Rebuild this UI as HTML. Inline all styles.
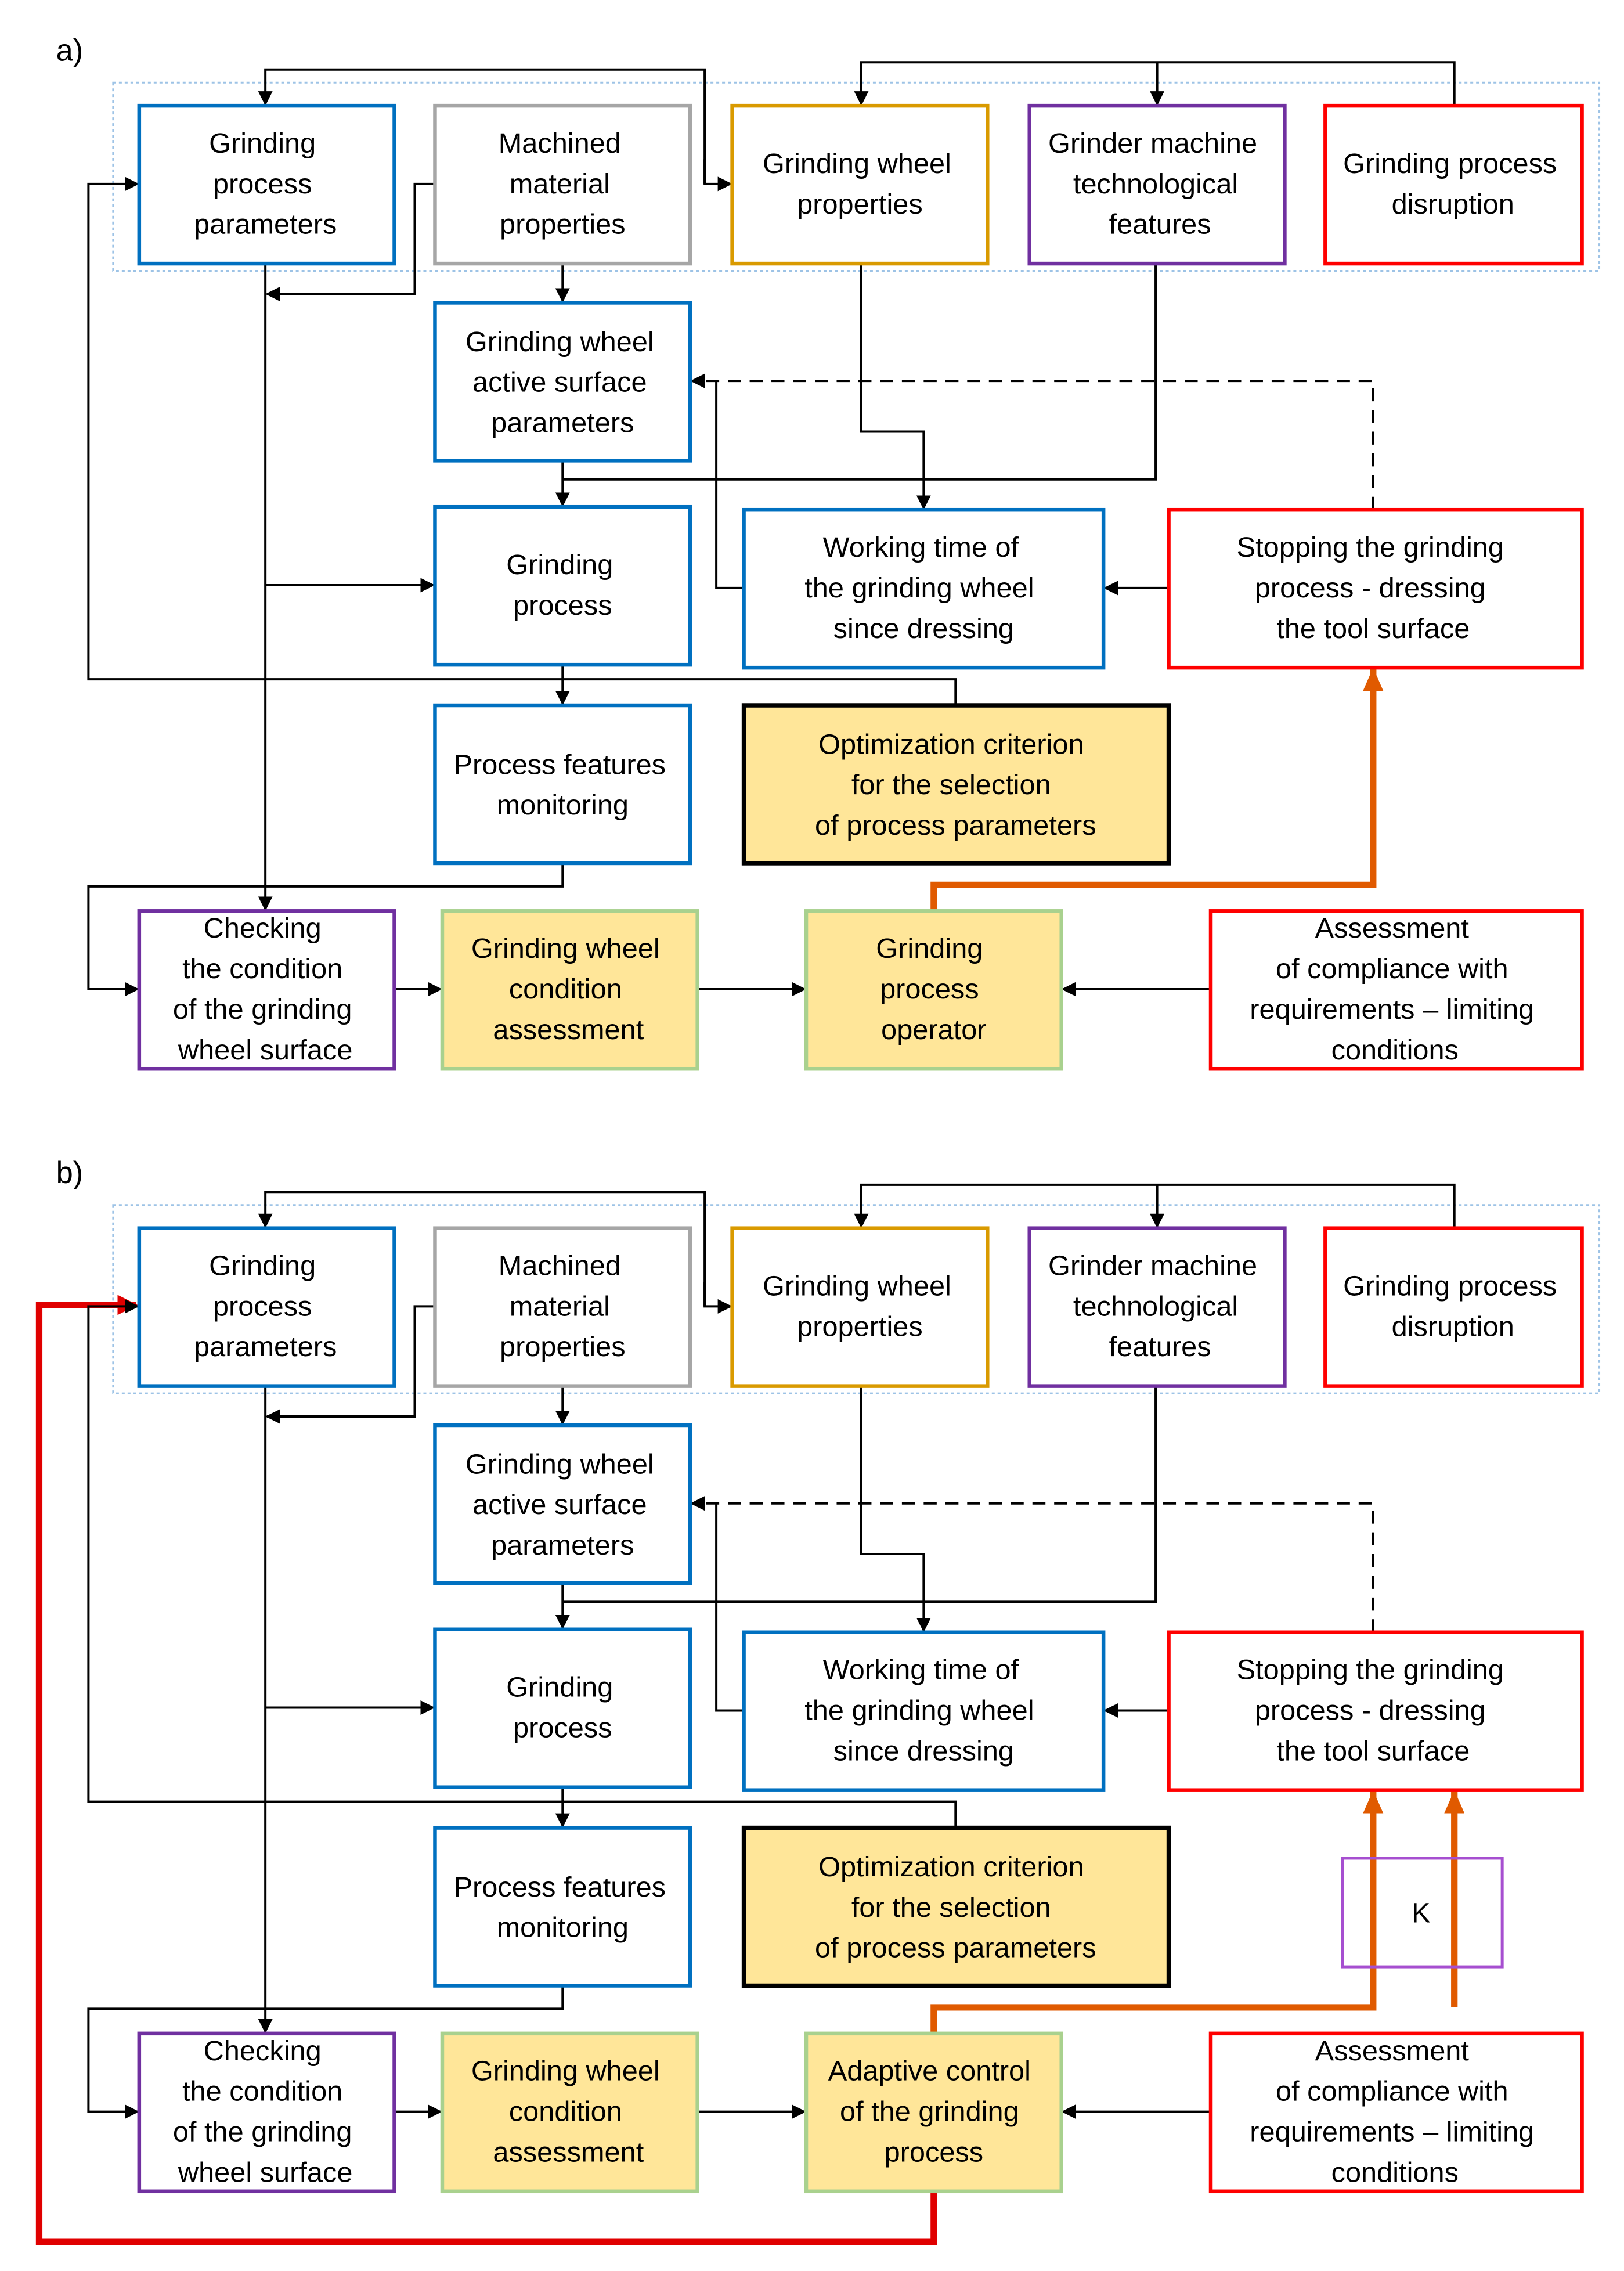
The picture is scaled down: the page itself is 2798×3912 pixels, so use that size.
<!DOCTYPE html>
<html><head><meta charset="utf-8">
<style>
html,body{margin:0;padding:0;background:#fff;}
svg{display:block;}
text{font-family:"Liberation Sans",sans-serif;font-size:19.5px;fill:#000;text-anchor:middle;dominant-baseline:central;}
.b{fill:#fff;stroke-width:2.6;}
.y{fill:#FFE699;stroke-width:2.6;}
.l{fill:none;stroke:#000;stroke-width:1.6;}
.d{fill:none;stroke:#000;stroke-width:1.6;stroke-dasharray:9 6;}
.o{fill:none;stroke:#E05A00;stroke-width:4.5;}
.r{fill:none;stroke:#E00000;stroke-width:4.5;}
</style></head>
<body>
<svg width="2798" height="3912" viewBox="0 0 1120 1568" preserveAspectRatio="none" xmlns="http://www.w3.org/2000/svg">
<defs>
<marker id="a" markerWidth="10" markerHeight="10" refX="9" refY="5" orient="auto" markerUnits="userSpaceOnUse"><path d="M0,0 L10,5 L0,10 z" fill="#000"/></marker>
<marker id="ao" markerWidth="16" markerHeight="14" refX="15" refY="7" orient="auto" markerUnits="userSpaceOnUse"><path d="M0,0 L16,7 L0,14 z" fill="#E05A00"/></marker>
<marker id="ar" markerWidth="14" markerHeight="14" refX="13" refY="7" orient="auto" markerUnits="userSpaceOnUse"><path d="M0,0 L14,7 L0,14 z" fill="#E00000"/></marker>
</defs>

<!-- PANEL A -->
<text x="48" y="35" style="font-size:21px">a)</text>
<rect x="78" y="57" width="1025" height="130" fill="none" stroke="#9DC3E6" stroke-width="1.2" stroke-dasharray="2 2"/>

<path class="l" d="M486,127 L486,48 L183,48 L183,72" marker-end="url(#a)"/>
<path class="l" d="M486,110 L486,127 L504,127" marker-end="url(#a)"/>
<path class="l" d="M1003,73 L1003,43 L594,43 L594,72" marker-end="url(#a)"/>
<path class="l" d="M798,43 L798,72" marker-end="url(#a)"/>
<path class="l" d="M300,127 L286,127 L286,203 L184,203" marker-end="url(#a)"/>
<path class="l" d="M183,182 L183,628" marker-end="url(#a)"/>
<path class="l" d="M183,404 L299,404" marker-end="url(#a)"/>
<path class="l" d="M388,182 L388,208" marker-end="url(#a)"/>
<path class="l" d="M594,182 L594,298 L637,298 L637,351" marker-end="url(#a)"/>
<path class="l" d="M797,182 L797,331 L388,331"/>
<path class="l" d="M388,318 L388,349" marker-end="url(#a)"/>
<path class="d" d="M947,352 L947,263 L477,263" marker-end="url(#a)"/>
<path class="l" d="M513,406 L494,406 L494,263"/>
<path class="l" d="M806,406 L762,406" marker-end="url(#a)"/>
<path class="l" d="M388,459 L388,486" marker-end="url(#a)"/>
<path class="l" d="M659,487 L659,469 L61,469 L61,127 L95,127" marker-end="url(#a)"/>
<path class="l" d="M388,596 L388,612 L61,612 L61,683 L95,683" marker-end="url(#a)"/>
<path class="l" d="M272,683 L304,683" marker-end="url(#a)"/>
<path class="l" d="M481,683 L555,683" marker-end="url(#a)"/>
<path class="l" d="M835,683 L733,683" marker-end="url(#a)"/>
<path class="o" d="M644,629 L644,611 L947,611 L947,462" marker-end="url(#ao)"/>

<rect class="b" x="96" y="73" width="176" height="109" stroke="#0070C0"/>
<text x="181" y="99">Grinding</text><text x="181" y="127">process</text><text x="183" y="155">parameters</text>
<rect class="b" x="300" y="73" width="176" height="109" stroke="#A6A6A6"/>
<text x="386" y="99">Machined</text><text x="386" y="127">material</text><text x="388" y="155">properties</text>
<rect class="b" x="505" y="73" width="176" height="109" stroke="#D99A00"/>
<text x="591" y="113">Grinding wheel</text><text x="593" y="141">properties</text>
<rect class="b" x="710" y="73" width="176" height="109" stroke="#7030A0"/>
<text x="795" y="99">Grinder machine</text><text x="797" y="127">technological</text><text x="800" y="155">features</text>
<rect class="b" x="914" y="73" width="177" height="109" stroke="#FF0000"/>
<text x="1000" y="113">Grinding process</text><text x="1002" y="141">disruption</text>

<rect class="b" x="300" y="209" width="176" height="109" stroke="#0070C0"/>
<text x="386" y="236">Grinding wheel</text><text x="386" y="264">active surface</text><text x="388" y="292">parameters</text>
<rect class="b" x="300" y="350" width="176" height="109" stroke="#0070C0"/>
<text x="386" y="390">Grinding</text><text x="388" y="418">process</text>
<rect class="b" x="513" y="352" width="248" height="109" stroke="#0070C0"/>
<text x="635" y="378">Working time of</text><text x="634" y="406">the grinding wheel</text><text x="637" y="434">since dressing</text>
<rect class="b" x="806" y="352" width="285" height="109" stroke="#FF0000"/>
<text x="945" y="378">Stopping the grinding</text><text x="945" y="406">process - dressing</text><text x="947" y="434">the tool surface</text>
<rect class="b" x="300" y="487" width="176" height="109" stroke="#0070C0"/>
<text x="386" y="528">Process features</text><text x="388" y="556">monitoring</text>
<rect class="y" x="513" y="487" width="293" height="109" stroke="#000" style="stroke-width:3"/>
<text x="656" y="514">Optimization criterion</text><text x="656" y="542">for the selection</text><text x="659" y="570">of process parameters</text>
<rect class="b" x="96" y="629" width="176" height="109" stroke="#7030A0"/>
<text x="181" y="641">Checking</text><text x="181" y="669">the condition</text><text x="181" y="697">of the grinding</text><text x="183" y="725">wheel surface</text>
<rect class="y" x="305" y="629" width="176" height="109" stroke="#A9D18E"/>
<text x="390" y="655">Grinding wheel</text><text x="390" y="683">condition</text><text x="392" y="711">assessment</text>
<rect class="y" x="556" y="629" width="176" height="109" stroke="#A9D18E"/>
<text x="641" y="655">Grinding</text><text x="641" y="683">process</text><text x="644" y="711">operator</text>
<rect class="b" x="835" y="629" width="256" height="109" stroke="#FF0000"/>
<text x="960" y="641">Assessment</text><text x="960" y="669">of compliance with</text><text x="960" y="697">requirements – limiting</text><text x="962" y="725">conditions</text>

<!-- PANEL B -->
<g transform="translate(0,775)">
<text x="48" y="35" style="font-size:21px">b)</text>
<rect x="78" y="57" width="1025" height="130" fill="none" stroke="#9DC3E6" stroke-width="1.2" stroke-dasharray="2 2"/>

<path class="r" d="M644,739 L644,773 L27,773 L27,126 L94,126" marker-end="url(#ar)"/>

<path class="l" d="M486,127 L486,48 L183,48 L183,72" marker-end="url(#a)"/>
<path class="l" d="M486,110 L486,127 L504,127" marker-end="url(#a)"/>
<path class="l" d="M1003,73 L1003,43 L594,43 L594,72" marker-end="url(#a)"/>
<path class="l" d="M798,43 L798,72" marker-end="url(#a)"/>
<path class="l" d="M300,127 L286,127 L286,203 L184,203" marker-end="url(#a)"/>
<path class="l" d="M183,182 L183,628" marker-end="url(#a)"/>
<path class="l" d="M183,404 L299,404" marker-end="url(#a)"/>
<path class="l" d="M388,182 L388,208" marker-end="url(#a)"/>
<path class="l" d="M594,182 L594,298 L637,298 L637,351" marker-end="url(#a)"/>
<path class="l" d="M797,182 L797,331 L388,331"/>
<path class="l" d="M388,318 L388,349" marker-end="url(#a)"/>
<path class="d" d="M947,352 L947,263 L477,263" marker-end="url(#a)"/>
<path class="l" d="M513,406 L494,406 L494,263"/>
<path class="l" d="M806,406 L762,406" marker-end="url(#a)"/>
<path class="l" d="M388,459 L388,486" marker-end="url(#a)"/>
<path class="l" d="M659,487 L659,469 L61,469 L61,127 L95,127" marker-end="url(#a)"/>
<path class="l" d="M388,596 L388,612 L61,612 L61,683 L95,683" marker-end="url(#a)"/>
<path class="l" d="M272,683 L304,683" marker-end="url(#a)"/>
<path class="l" d="M481,683 L555,683" marker-end="url(#a)"/>
<path class="l" d="M835,683 L733,683" marker-end="url(#a)"/>
<path class="o" d="M644,629 L644,611 L947,611 L947,462" marker-end="url(#ao)"/>
<path class="o" d="M1003,611 L1003,462" marker-end="url(#ao)"/>
<rect x="926" y="508" width="110" height="75" fill="none" stroke="#A64FD0" stroke-width="2"/>
<text x="980" y="546">K</text>

<rect class="b" x="96" y="73" width="176" height="109" stroke="#0070C0"/>
<text x="181" y="99">Grinding</text><text x="181" y="127">process</text><text x="183" y="155">parameters</text>
<rect class="b" x="300" y="73" width="176" height="109" stroke="#A6A6A6"/>
<text x="386" y="99">Machined</text><text x="386" y="127">material</text><text x="388" y="155">properties</text>
<rect class="b" x="505" y="73" width="176" height="109" stroke="#D99A00"/>
<text x="591" y="113">Grinding wheel</text><text x="593" y="141">properties</text>
<rect class="b" x="710" y="73" width="176" height="109" stroke="#7030A0"/>
<text x="795" y="99">Grinder machine</text><text x="797" y="127">technological</text><text x="800" y="155">features</text>
<rect class="b" x="914" y="73" width="177" height="109" stroke="#FF0000"/>
<text x="1000" y="113">Grinding process</text><text x="1002" y="141">disruption</text>

<rect class="b" x="300" y="209" width="176" height="109" stroke="#0070C0"/>
<text x="386" y="236">Grinding wheel</text><text x="386" y="264">active surface</text><text x="388" y="292">parameters</text>
<rect class="b" x="300" y="350" width="176" height="109" stroke="#0070C0"/>
<text x="386" y="390">Grinding</text><text x="388" y="418">process</text>
<rect class="b" x="513" y="352" width="248" height="109" stroke="#0070C0"/>
<text x="635" y="378">Working time of</text><text x="634" y="406">the grinding wheel</text><text x="637" y="434">since dressing</text>
<rect class="b" x="806" y="352" width="285" height="109" stroke="#FF0000"/>
<text x="945" y="378">Stopping the grinding</text><text x="945" y="406">process - dressing</text><text x="947" y="434">the tool surface</text>
<rect class="b" x="300" y="487" width="176" height="109" stroke="#0070C0"/>
<text x="386" y="528">Process features</text><text x="388" y="556">monitoring</text>
<rect class="y" x="513" y="487" width="293" height="109" stroke="#000" style="stroke-width:3"/>
<text x="656" y="514">Optimization criterion</text><text x="656" y="542">for the selection</text><text x="659" y="570">of process parameters</text>
<rect class="b" x="96" y="629" width="176" height="109" stroke="#7030A0"/>
<text x="181" y="641">Checking</text><text x="181" y="669">the condition</text><text x="181" y="697">of the grinding</text><text x="183" y="725">wheel surface</text>
<rect class="y" x="305" y="629" width="176" height="109" stroke="#A9D18E"/>
<text x="390" y="655">Grinding wheel</text><text x="390" y="683">condition</text><text x="392" y="711">assessment</text>
<rect class="y" x="556" y="629" width="176" height="109" stroke="#A9D18E"/>
<text x="641" y="655">Adaptive control</text><text x="641" y="683">of the grinding</text><text x="644" y="711">process</text>
<rect class="b" x="835" y="629" width="256" height="109" stroke="#FF0000"/>
<text x="960" y="641">Assessment</text><text x="960" y="669">of compliance with</text><text x="960" y="697">requirements – limiting</text><text x="962" y="725">conditions</text>
</g>
</svg>
</body></html>
